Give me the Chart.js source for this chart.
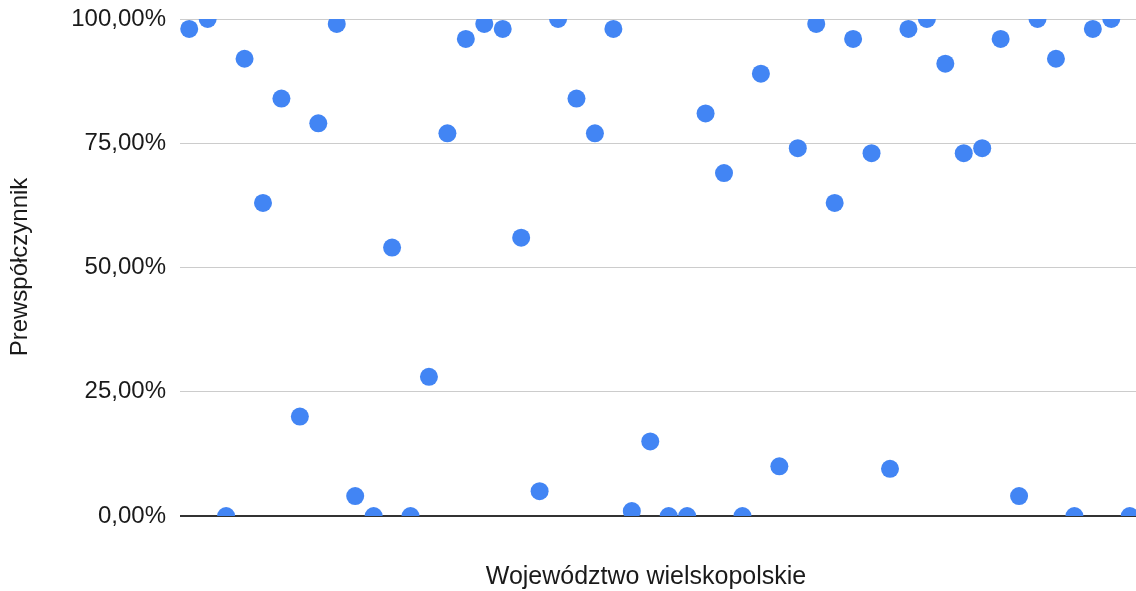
<!DOCTYPE html>
<html>
<head>
<meta charset="utf-8">
<script src="https://cdn.jsdelivr.net/npm/chart.js@4/dist/chart.umd.min.js"></script>
<style>
  html, body { margin: 0; padding: 0; background: #fff; }
  canvas { display: block; }
</style>
</head>
<body>
<canvas id="wykres" width="1136" height="591"></canvas>
<script>
'use strict'

// wartości prewspółczynnika (%) dla kolejnych pozycji
const wartosci = [98, 100, 0, 92, 63, 84, 20, 79, 99, 4,
  0, 54, 0, 28, 77, 96, 99, 98, 56, 5,
  100, 84, 77, 98, 1, 15, 0, 0, 81, 69,
  0, 89, 10, 74, 99, 63, 96, 73, 9.5, 98,
  100, 91, 73, 74, 96, 4, 100, 92, 0, 98,
  100, 0];
const tickiY = [0, 25, 50, 75, 100];
const tytulX = 'Województwo wielskopolskie';
const tytulY = 'Prewspółczynnik';

const czcionka = '"Liberation Sans", Arial, sans-serif';

// tytuły osi rysowane ręcznie, żeby trafić w położenie z oryginału
const tytulyOsi = {
  id: 'tytulyOsi',
  afterDraw(chart) {
    const c = chart.ctx;
    c.save();
    c.fillStyle = '#1a1a1a';
    c.font = '25px ' + czcionka;
    c.textAlign = 'center';
    c.textBaseline = 'alphabetic';
    c.fillText(tytulX, 646, 584);
    c.font = '24px ' + czcionka;
    c.translate(20, 267);
    c.rotate(-Math.PI / 2);
    c.textBaseline = 'middle';
    c.fillText(tytulY, 0, 0);
    c.restore();
  }
};

const ctx = document.getElementById('wykres').getContext('2d');
new Chart(ctx, {
  type: 'scatter',
  data: {
    datasets: [{
      data: wartosci.map((v, i) => ({ x: i, y: v })),
      backgroundColor: '#4285F4',
      borderWidth: 0,
      pointRadius: 9,
      pointHoverRadius: 9,
      clip: 0
    }]
  },
  options: {
    responsive: false,
    animation: false,
    layout: { autoPadding: false, padding: { top: 19, right: 0, bottom: 0, left: 0 } },
    plugins: { legend: { display: false }, tooltip: { enabled: false } },
    scales: {
      x: {
        type: 'linear',
        min: -0.5,
        max: 51.34,
        ticks: { display: false },
        grid: { display: false },
        border: { display: false },
        afterFit: s => { s.height = 75; s.paddingLeft = 0; s.paddingRight = 0; }
      },
      y: {
        min: 0,
        max: 100,
        afterBuildTicks: s => { s.ticks = tickiY.map(v => ({ value: v })); },
        ticks: {
          padding: 14,
          color: '#1a1a1a',
          font: { family: czcionka, size: 24 },
          callback: v => v.toFixed(2).replace('.', ',') + '%'
        },
        grid: {
          drawTicks: false,
          color: c => c.tick && c.tick.value === 0 ? '#333' : '#ccc',
          lineWidth: c => c.tick && c.tick.value === 0 ? 2 : 1
        },
        border: { display: false },
        afterFit: s => { s.width = 180; s.paddingTop = 0; s.paddingBottom = 0; }
      }
    }
  },
  plugins: [tytulyOsi]
});
</script>
</body>
</html>
